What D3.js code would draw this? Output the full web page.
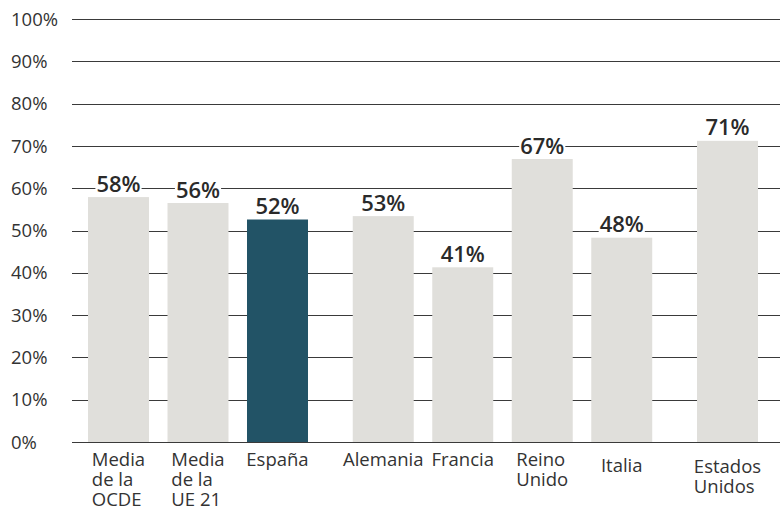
<!DOCTYPE html>
<html>
<head>
<meta charset="utf-8">
<script src="https://cdn.jsdelivr.net/npm/d3@7"></script>
<style>
  html, body { margin: 0; padding: 0; background: #fff; }
  svg { display: block; font-family: "Open Sans", sans-serif; }
</style>
</head>
<body>
<svg id="chart" width="780" height="511"></svg>
<script>
// ---- data ----
const categories = ["Media de la OCDE", "Media de la UE 21", "España", "Alemania", "Francia", "Reino Unido", "Italia", "Estados Unidos"];
const labelLines = [["Media", "de la", "OCDE"], ["Media", "de la", "UE 21"], ["España"], ["Alemania"], ["Francia"], ["Reino", "Unido"], ["Italia"], ["Estados", "Unidos"]];
const groups = [0, 0, 0, 1, 1, 1, 1, 2];
const values = [57.9, 56.5, 52.6, 53.4, 41.3, 66.9, 48.3, 71.2];
const valueLabels = ["58%", "56%", "52%", "53%", "41%", "67%", "48%", "71%"];
const highlight = ["España"];
const yTicks = [0, 10, 20, 30, 40, 50, 60, 70, 80, 90, 100];

// ---- layout ----
const gridLeft = 72, gridRight = 780;
const groupGap = 0.33;
const barFrac = 0.767;
const labelShift = { "Italia": 6, "Estados Unidos": 7 };

const svg = d3.select("#chart");

const y = d3.scaleLinear().domain([0, 100]).range([442, 19]);

const slot = categories.map((c, i) => i + groups[i] * groupGap);
const x = d3.scaleLinear().domain([0, d3.max(slot)]).range([88, 697]);
const step = x(1) - x(0);
const bw = step * barFrac;

// gridlines
svg.append("g").selectAll("line").data(yTicks).join("line")
  .attr("x1", gridLeft).attr("x2", gridRight)
  .attr("y1", d => Math.round(y(d)) + 0.5).attr("y2", d => Math.round(y(d)) + 0.5)
  .attr("stroke", "#3a3a3a").attr("stroke-width", 1.2);

// y tick labels
svg.append("g").selectAll("text").data(yTicks).join("text")
  .attr("x", 11).attr("y", d => y(d)).attr("dy", "0.36em")
  .attr("font-size", 18.5).attr("fill", "#333")
  .text(d => d + "%");

// bars
svg.append("g").selectAll("rect").data(categories).join("rect")
  .attr("x", (d, i) => x(slot[i]))
  .attr("y", (d, i) => y(values[i]))
  .attr("width", bw)
  .attr("height", (d, i) => y(0) - y(values[i]))
  .attr("fill", d => highlight.includes(d) ? "#225366" : "#e0dfdb");

// value labels with white background
const vl = svg.append("g").selectAll("g").data(categories).join("g");
const vt = vl.append("text")
  .attr("x", (d, i) => x(slot[i]) + bw / 2)
  .attr("y", (d, i) => y(values[i]) - 5.5)
  .attr("text-anchor", "middle")
  .attr("font-size", 22).attr("font-weight", 600).attr("fill", "#2a2a2a")
  .text((d, i) => valueLabels[i]);
vt.each(function () {
  const b = this.getBBox();
  d3.select(this.parentNode).insert("rect", "text")
    .attr("x", b.x - 1).attr("y", b.y + 3).attr("width", b.width + 2).attr("height", b.height - 5)
    .attr("fill", "#fff");
});

// category labels (one text element per line, block centred under bar)
const cg = svg.append("g").selectAll("g").data(categories).join("g");
cg.each(function (d, i) {
  const g = d3.select(this);
  const texts = labelLines[i].map((ln, k) =>
    g.append("text")
      .attr("x", 0)
      .attr("y", 465.5 + (labelShift[d] || 0) + k * 20)
      .attr("font-size", 18.5).attr("fill", "#333")
      .text(ln));
  const w = d3.max(texts, t => t.node().getComputedTextLength());
  const left = x(slot[i]) + bw / 2 - w / 2;
  texts.forEach(t => t.attr("x", left));
});
</script>
</body>
</html>
